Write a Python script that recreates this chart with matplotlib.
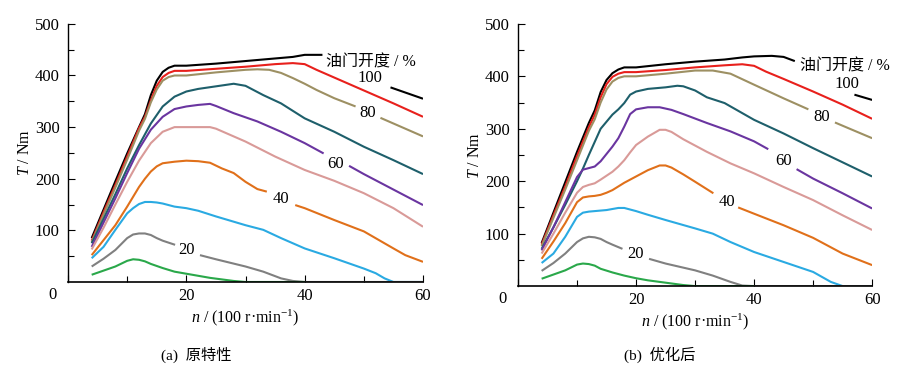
import numpy as np
import matplotlib
matplotlib.use("Agg")
import matplotlib.pyplot as plt

plt.rcParams['font.family'] = ['Liberation Serif', 'Noto Sans CJK SC']
plt.rcParams['mathtext.fontset'] = 'custom'
plt.rcParams['mathtext.rm'] = 'Liberation Serif'
plt.rcParams['mathtext.it'] = 'Liberation Serif:italic'

nan = np.nan

# throttle opening curves, high to low
colors = ['#000000', '#e8201c', '#9d9063', '#1e5f6b', '#6a35a0',
          '#d99a98', '#e0701a', '#2aaae2', '#808080', '#2aa84a']

# ---------- (a) original ----------
a_n100 = [4, 6, 8, 10, 12, 13, 14, 15, 16, 17, 18, 20, 25, 30, 35, 38, 40, 43, nan, 54.5, 57, 60]
a_t100 = [85, 140, 195, 249, 300, 325, 362, 390, 407, 415, 419, 419, 423, 428, 433, 436, 440, 440, nan, 377, 367, 355]
a_n90 = [4, 6, 8, 10, 12, 13, 14, 15, 16, 17, 18, 20, 25, 30, 35, 38, 40, 42, 45, 50, 55, 60]
a_t90 = [80, 135, 188, 243, 298, 320, 352, 380, 397, 405, 409, 409, 413, 417, 422, 424, 422, 411, 396, 371, 346, 320]
a_n80 = [4, 6, 8, 10, 12, 13, 14, 15, 16, 17, 18, 20, 25, 30, 32, 34, 36, 38, 40, 42, 45, 48.6, nan, 52.8, 56, 60]
a_t80 = [77, 130, 183, 237, 293, 316, 348, 373, 390, 397, 400, 400, 406, 411, 412, 411, 405, 395, 384, 372, 356, 340, nan, 318, 302, 282]
a_n70 = [4, 6, 8, 10, 12, 14, 16, 18, 20, 22, 25, 28, 30, 33, 36, 40, 45, 50, 55, 60]
a_t70 = [75, 122, 170, 220, 265, 307, 340, 359, 369, 374, 379, 384, 380, 362, 346, 317, 291, 262, 236, 209]
a_n60 = [4, 6, 8, 10, 12, 14, 16, 18, 20, 22, 24, 25, 28, 32, 36, 40, 43.2, nan, 47.5, 50, 55, 60]
a_t60 = [68, 115, 162, 211, 258, 295, 320, 335, 340, 343, 345, 341, 327, 311, 291, 269, 249, nan, 225, 209, 179, 149]
a_n50 = [4, 6, 8, 10, 12, 14, 16, 18, 20, 22, 24, 25, 28, 30, 35, 40, 45, 50, 55, 60]
a_t50 = [63, 105, 150, 194, 235, 269, 291, 300, 300, 300, 300, 297, 282, 272, 243, 217, 196, 172, 143, 107]
a_n40 = [4, 6, 8, 10, 12, 13, 14, 15, 16, 18, 20, 22, 24, 26, 28, 30, 32, 33.6, nan, 38.4, 40, 45, 50, 55, 57, 60]
a_t40 = [52, 81, 110, 146, 184, 200, 214, 224, 230, 233, 235, 234, 231, 220, 211, 194, 180, 175, nan, 149, 143, 120, 98, 65, 52, 39]
a_n30 = [4, 6, 8, 10, 11, 12, 13, 14, 15, 16, 18, 20, 22, 25, 30, 33, 36, 40, 45, 50, 52, 53.5, 55, 60]
a_t30 = [46, 68, 101, 133, 143, 151, 155, 155, 154, 152, 146, 143, 138, 127, 110, 101, 85, 65, 46, 26, 17, 7, 0, 0]
a_n20 = [4, 6, 8, 10, 11, 12, 13, 14, 15, 16, 18.1, nan, 22.3, 25, 30, 33, 36, 38, 40, 60]
a_t20 = [30, 45, 62, 85, 92, 94, 94, 91, 85, 80, 72, nan, 52, 44, 30, 20, 7, 2, 0, 0]
a_n10 = [4, 6, 8, 10, 11, 12, 13, 14, 16, 18, 20, 22, 24, 26, 28, 30, 40]
a_t10 = [14, 22, 30, 41, 44, 43, 40, 35, 27, 20, 16, 12, 8, 5, 2, 0, 0]

# ---------- (b) optimised ----------
b_n100 = [4, 6, 8, 10, 12, 13, 14, 15, 16, 17, 18, 20, 25, 30, 35, 38, 40, 43, 45, 46.9, nan, 57, 60]
b_t100 = [82, 140, 198, 256, 311, 335, 370, 393, 406, 413, 417, 417, 423, 428, 432, 436, 438, 439, 437, 429, nan, 365, 355]
b_n90 = [4, 6, 8, 10, 12, 13, 14, 15, 16, 17, 18, 20, 25, 30, 35, 38, 40, 42, 45, 50, 55, 60]
b_t90 = [79, 135, 190, 248, 303, 327, 360, 385, 399, 405, 408, 408, 412, 417, 421, 423, 420, 409, 395, 371, 346, 319]
b_n80 = [4, 6, 8, 10, 12, 13, 14, 15, 16, 17, 18, 20, 25, 30, 33, 36, 40, 45, 49.2, nan, 53.7, 56, 60]
b_t80 = [76, 130, 184, 240, 296, 318, 350, 375, 390, 397, 400, 400, 405, 411, 411, 405, 384, 358, 337, nan, 312, 301, 282]
b_n70 = [4, 6, 8, 10, 11, 12, 14, 16, 17, 18, 19, 20, 22, 25, 27, 28, 30, 32, 35, 40, 45, 50, 55, 60]
b_t70 = [71, 112, 155, 200, 224, 250, 300, 327, 337, 349, 365, 371, 376, 379, 382, 381, 373, 360, 349, 317, 291, 263, 236, 209]
b_n60 = [4, 6, 8, 10, 11, 12, 13, 14, 15, 16, 17, 18, 19, 20, 22, 24, 26, 28, 32, 36, 40, 42.4, nan, 47.2, 50, 55, 60]
b_t60 = [68, 112, 160, 208, 222, 225, 228, 238, 252, 266, 282, 304, 328, 337, 341, 341, 336, 328, 311, 295, 276, 261, nan, 223, 205, 177, 148]
b_n50 = [4, 6, 8, 10, 11, 12, 13, 14, 16, 17, 18, 19, 20, 22, 24, 25, 26, 28, 32, 36, 40, 45, 50, 55, 60]
b_t50 = [62, 100, 140, 178, 189, 193, 196, 203, 218, 228, 240, 255, 269, 285, 298, 298, 294, 280, 256, 234, 215, 189, 164, 135, 107]
b_n40 = [4, 6, 8, 10, 11, 12, 13, 14, 15, 16, 17, 18, 20, 22, 24, 25, 26, 28, 30, 33.1, nan, 37.3, 40, 45, 50, 55, 60]
b_t40 = [52, 85, 120, 160, 169, 171, 172, 174, 178, 183, 190, 197, 209, 221, 230, 230, 226, 213, 199, 177, nan, 150, 138, 116, 92, 62, 40]
b_n30 = [4, 6, 8, 10, 11, 12, 13, 14, 15, 16, 17, 18, 20, 22, 25, 30, 33, 36, 40, 45, 50, 53, 55, 60]
b_t30 = [44, 62, 94, 132, 140, 142, 143, 144, 145, 147, 149, 149, 143, 136, 126, 110, 100, 84, 65, 46, 27, 8, 0, 0]
b_n20 = [4, 6, 8, 10, 11, 12, 13, 14, 15, 16, 17.7, nan, 22.2, 25, 30, 33, 36, 38, 40, 60]
b_t20 = [29, 44, 62, 84, 91, 94, 93, 90, 84, 79, 71, nan, 52, 43, 30, 20, 8, 1, 0, 0]
b_n10 = [4, 6, 8, 10, 11, 12, 13, 14, 16, 18, 20, 22, 24, 26, 28, 30, 40]
b_t10 = [14, 22, 30, 41, 43, 42, 39, 33, 26, 20, 15, 11, 8, 5, 2, 0, 0]

a_curves = [(a_n100, a_t100), (a_n90, a_t90), (a_n80, a_t80), (a_n70, a_t70), (a_n60, a_t60),
            (a_n50, a_t50), (a_n40, a_t40), (a_n30, a_t30), (a_n20, a_t20), (a_n10, a_t10)]
b_curves = [(b_n100, b_t100), (b_n90, b_t90), (b_n80, b_t80), (b_n70, b_t70), (b_n60, b_t60),
            (b_n50, b_t50), (b_n40, b_t40), (b_n30, b_t30), (b_n20, b_t20), (b_n10, b_t10)]

label_text = ['100', '80', '60', '40', '20']
a_label_pos = [(51.1, 395), (50.6, 328), (45.2, 229), (36.0, 161), (20.1, 61)]
b_label_pos = [(55.7, 386), (51.4, 322), (45.0, 239), (35.4, 161), (19.9, 61)]
a_title_pos = (51.2, 426)
b_title_pos = (55.4, 419)

fs = 12

fig = plt.figure(figsize=(9.08, 3.73), dpi=100)
ax_a = fig.add_axes([0.0749, 0.244, 0.391, 0.692])
ax_b = fig.add_axes([0.5705, 0.233, 0.390, 0.703])

def draw(ax, curves, lpos, tpos):
    for (n, t), c in zip(curves, colors):
        ax.plot(n, t, color=c, lw=1.5, solid_capstyle='butt')
    for s, (x, y) in zip(label_text, lpos):
        ax.text(x, y, s, ha='center', va='center', fontsize=fs)
    ax.text(tpos[0], tpos[1], '油门开度 / %', ha='center', va='center', fontsize=fs - 0.5,
            family=['Liberation Serif', 'Noto Sans CJK SC'])
    ax.set_xlim(0, 60)
    ax.set_ylim(0, 500)
    ax.set_xticks([0, 20, 40, 60])
    ax.set_xticklabels(['', '20', '40', '60'])
    ax.set_xticks([10, 30, 50], minor=True)
    ax.set_yticks([100, 200, 300, 400, 500])
    ax.set_yticks([50, 150, 250, 350, 450], minor=True)
    ax.tick_params(which='both', direction='in', labelsize=fs, width=0.8)
    ax.tick_params(which='major', length=5)
    ax.tick_params(which='minor', length=4)
    ax.tick_params(axis='x', pad=4)
    ax.tick_params(axis='y', pad=6)
    for s in ['top', 'right']:
        ax.spines[s].set_visible(False)
    ax.spines['left'].set_linewidth(1.0)
    ax.spines['bottom'].set_linewidth(1.2)
    ax.text(-0.045, -0.02, '0', transform=ax.transAxes, ha='center', va='top', fontsize=fs)
    ax.set_xlabel('$n$ / (100 r·min$^{-1}$)', fontsize=fs - 0.5, labelpad=3)
    ax.set_ylabel('$T$ / Nm', fontsize=fs - 0.5, labelpad=1)

draw(ax_a, a_curves, a_label_pos, a_title_pos)
draw(ax_b, b_curves, b_label_pos, b_title_pos)

fig.text(0.216, 0.048, '(a)  原特性', ha='center', va='center', fontsize=11)
fig.text(0.727, 0.048, '(b)  优化后', ha='center', va='center', fontsize=11)

fig.savefig('out.png', dpi=100)
